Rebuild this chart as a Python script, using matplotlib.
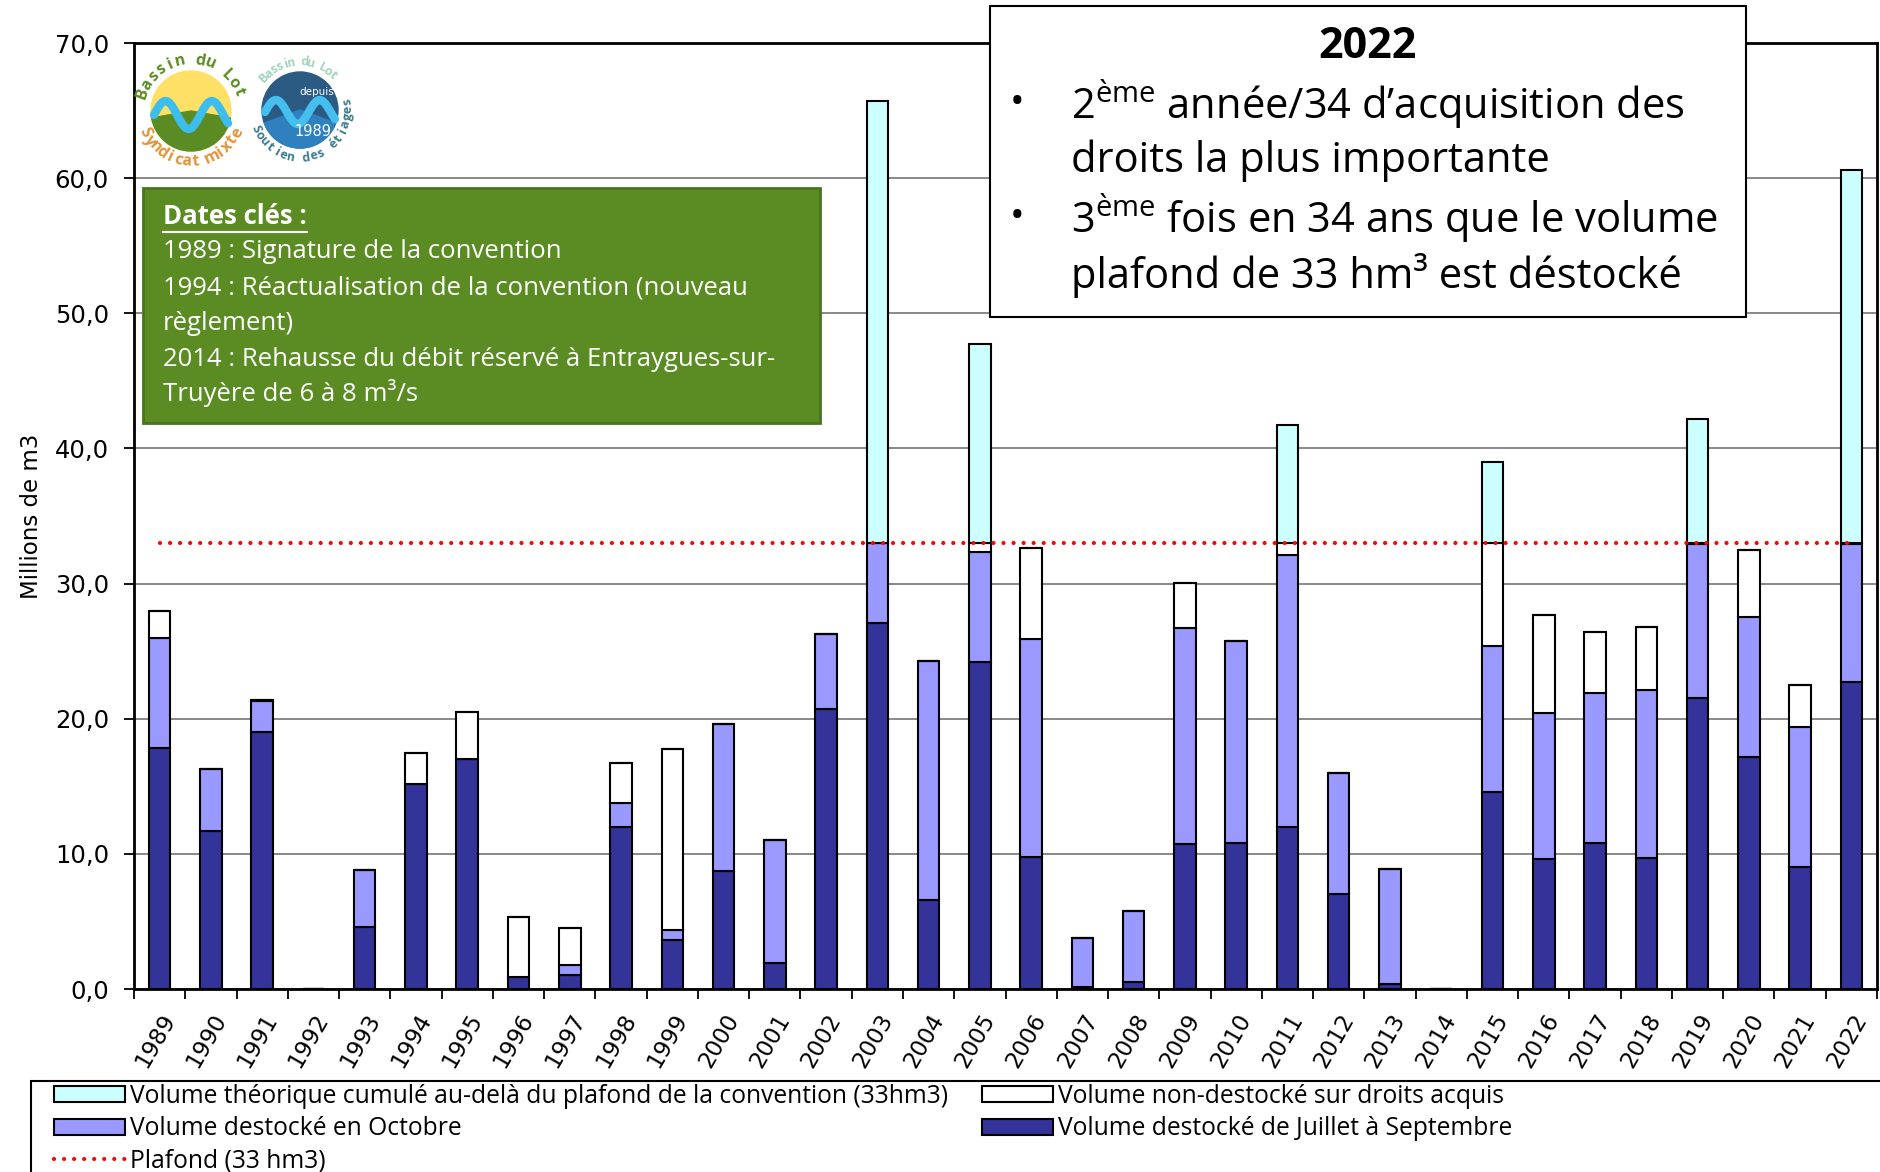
import numpy as np
import matplotlib
matplotlib.use('Agg')
import matplotlib.pyplot as plt
from matplotlib.patches import Rectangle, Circle, Wedge, Patch
from matplotlib.lines import Line2D

plt.rcParams['mathtext.fontset'] = 'custom'
plt.rcParams['mathtext.rm'] = 'Open Sans'
plt.rcParams['mathtext.it'] = 'Open Sans:italic'
plt.rcParams['mathtext.bf'] = 'Open Sans:bold'

#------------------------------------------------------------------------
# Data (millions de m3)
years = list(range(1989, 2023))
juil_sept = [17.8, 11.7, 19.0, 0.0, 4.6, 15.2, 17.0, 0.9, 1.0, 12.0,
             3.6, 8.7, 1.95, 20.7, 27.1, 6.6, 24.2, 9.8, 0.15, 0.5,
             10.7, 10.8, 12.0, 7.05, 0.4, 0.0, 14.6, 9.65, 10.8, 9.7,
             21.5, 17.2, 9.05, 22.7]
octobre = [8.2, 4.55, 2.3, 0.0, 4.2, 0.0, 0.0, 0.0, 0.8, 1.8,
           0.8, 10.9, 9.1, 5.6, 5.9, 17.65, 8.1, 16.1, 3.6, 5.3,
           16.0, 14.95, 20.1, 8.9, 8.5, 0.0, 10.8, 10.75, 11.1, 12.45,
           11.4, 10.3, 10.35, 10.2]
non_destocke = [2.0, 0.0, 0.1, 0.0, 0.0, 2.3, 3.5, 4.4, 2.75, 2.9,
                13.35, 0.0, 0.0, 0.0, 0.0, 0.0, 0.7, 6.7, 0.0, 0.0,
                3.35, 0.0, 0.9, 0.0, 0.0, 0.0, 7.6, 7.25, 4.5, 4.6,
                0.1, 5.0, 3.1, 0.1]
au_dela = [0.0, 0.0, 0.0, 0.0, 0.0, 0.0, 0.0, 0.0, 0.0, 0.0,
           0.0, 0.0, 0.0, 0.0, 32.7, 0.0, 14.7, 0.0, 0.0, 0.0,
           0.0, 0.0, 8.7, 0.0, 0.0, 0.0, 6.0, 0.0, 0.0, 0.0,
           9.2, 0.0, 0.0, 27.6]
plafond = 33.0

labels_leg = ['Volume théorique cumulé au-delà du plafond de la convention (33hm3)',
              'Volume destocké en Octobre',
              'Plafond (33 hm3)',
              'Volume non-destocké sur droits acquis',
              'Volume destocké de Juillet à Septembre']

dates_cles = ['1989 : Signature de la convention',
              '1994 : Réactualisation de la convention (nouveau',
              'règlement)',
              '2014 : Rehausse du débit réservé à Entraygues-sur-',
              'Truyère de 6 à 8 m³/s']

faits_2022 = ['2$^{\\mathrm{ème}}$ année/34 d’acquisition des',
              'droits la plus importante',
              '3$^{\\mathrm{ème}}$ fois en 34 ans que le volume',
              'plafond de 33 hm³ est déstocké']

c_dark = '#333399'
c_oct = '#9999FF'
c_cyan = '#CCFFFF'
c_green = '#5B8C23'

#-----------------------------plotting-----------------------------------
fig = plt.figure(figsize=(18.8, 11.72), dpi=100)
ax = fig.add_axes([134/1880, 1-989/1172, (1877-134)/1880, (989-43)/1172])

x = np.arange(len(years))
w = 0.42
s1 = np.array(juil_sept)
s2 = s1 + np.array(octobre)
s3 = s2 + np.array(non_destocke)
ax.bar(x, juil_sept, w, color=c_dark, edgecolor='black', lw=1.5)
ax.bar(x, octobre, w, bottom=s1, color=c_oct, edgecolor='black', lw=1.5)
ax.bar(x, non_destocke, w, bottom=s2, color='white', edgecolor='black', lw=1.5)
ax.bar(x, au_dela, w, bottom=s3, color=c_cyan, edgecolor='black', lw=1.5)
ax.plot(x, [plafond]*len(x), color='red', lw=3, ls=(0, (0.01, 2.4)),
        dash_capstyle='round', zorder=4)

ax.set_xlim(-0.5, len(years)-0.5)
ax.set_ylim(0, 70)
yt = np.arange(0, 71, 10)
ax.set_yticks(yt)
ax.set_yticklabels([('%.1f' % v).replace('.', ',') for v in yt])
ax.yaxis.grid(True, color='#808080', lw=1.3)
ax.set_axisbelow(True)
for s in ax.spines.values():
  s.set_linewidth(2)
ax.set_xticks(x)
ax.set_xticklabels([str(y) for y in years])
ax.set_xticks(np.arange(-0.5, len(years), 1), minor=True)
ax.tick_params(axis='x', which='major', length=0, pad=15, labelsize=16.5)
ax.tick_params(axis='x', which='minor', length=7, width=1.3)
ax.tick_params(axis='y', length=7, width=1.3, pad=11, labelsize=17.5)
plt.setp(ax.get_xticklabels(), rotation=60, ha='right', va='top',
         rotation_mode='anchor')
ax.set_ylabel('Millions de m3', fontsize=16.5)
ax.yaxis.set_label_coords(-0.052, 0.50)

#-----------------------------overlay (pixel coords)---------------------
ov = fig.add_axes([0, 0, 1, 1], zorder=3)
ov.set_xlim(0, 1880)
ov.set_ylim(1172, 0)
ov.axis('off')
ov.patch.set_alpha(0)

# green "Dates cles" box
ov.add_patch(Rectangle((143, 188), 677, 235, facecolor=c_green,
                       edgecolor='#4A7420', lw=2))
t = ov.text(163, 217, 'Dates clés :', color='white', fontsize=18.5,
            fontweight='bold', family='Open Sans', va='center')
ypos = [252, 288, 323, 359, 393]
for yy, s in zip(ypos, dates_cles):
  ov.text(163, yy, s, color='white', fontsize=18.5, family='Open Sans',
          va='center')
r = fig.canvas.get_renderer()
bb = t.get_window_extent(renderer=r)
ov.plot([bb.x0, bb.x1], [232, 232], color='white', lw=1.5)

# 2022 box
ov.add_patch(Rectangle((990, 6), 756, 311, facecolor='white',
                       edgecolor='black', lw=1.5))
ov.text(1368, 46, '2022', fontsize=31, fontweight='bold', family='Open Sans',
        ha='center', va='center')
ypos = [104, 161, 218, 276]
for yy, s in zip(ypos, faits_2022):
  ov.text(1071, yy, s, fontsize=30, family='Open Sans', va='center')
for yy in [104, 218]:
  ov.text(1017, yy, '•', fontsize=28, family='Open Sans', va='center',
          ha='center')

# logos
def arc_text(txt, cx, cy, rad, start, step, color, size, top=True):
  for i, ch in enumerate(txt):
    a = start - i*step if top else start + i*step
    ar = np.deg2rad(a)
    rot = a - 90 if top else a + 90
    ov.text(cx + rad*np.cos(ar), cy - rad*np.sin(ar), ch, rotation=rot,
            ha='center', va='center', color=color, fontsize=size,
            fontweight='bold', family='Open Sans')

cx, cy = 191, 111
ov.add_patch(Circle((cx, cy), 40, color='#FFE066'))
ov.add_patch(Wedge((cx, cy), 40, 10, 170, color='#5B8C23'))
tt = np.linspace(0, 1, 60)
ov.plot(cx - 37 + 74*tt, cy + 4 - 14*np.sin(2*np.pi*1.6*tt), color='#3DBDEB',
        lw=6, solid_capstyle='round')
arc_text('Bassin du Lot', cx, cy, 51, 160, 11.5, '#5B8C23', 11.5)
arc_text('Syndicat mixte', cx, cy, 51, 205, 10, '#E0953A', 11.5, top=False)

cx, cy = 300, 110
ov.add_patch(Circle((cx, cy), 38, color='#2B5A82'))
ov.add_patch(Wedge((cx, cy), 38, 20, 160, color='#2E80BF'))
ov.plot(cx - 35 + 70*tt, cy + 2 - 12*np.sin(2*np.pi*1.6*tt), color='#45C0EE',
        lw=6, solid_capstyle='round')
ov.text(cx + 17, cy - 18, 'depuis', color='white', fontsize=7.5, ha='center',
        va='center', family='DejaVu Sans')
ov.text(cx + 13, cy + 22, '1989', color='white', fontsize=10.5, ha='center',
        va='center', family='DejaVu Sans')
arc_text('Bassin du Lot', cx, cy, 48, 138, 7.6, '#A3D6BD', 9)
arc_text('Soutien des étiages', cx, cy, 48, 203, 9.3, '#3B7C8C', 9, top=False)

# legend
ov.add_patch(Rectangle((31, 1081), 1900, 200, facecolor='white',
                       edgecolor='black', lw=1.5, zorder=0))
h_cyan = Patch(facecolor=c_cyan, edgecolor='black', lw=1.5)
h_oct = Patch(facecolor=c_oct, edgecolor='black', lw=1.5)
h_white = Patch(facecolor='white', edgecolor='black', lw=1.5)
h_dark = Patch(facecolor=c_dark, edgecolor='black', lw=1.5)
h_plaf = Line2D([], [], color='red', lw=3, ls=(0, (0.01, 2.4)),
                dash_capstyle='round')
leg_kw = dict(loc='upper left', frameon=False, borderpad=0, borderaxespad=0,
              handlelength=2.9, handleheight=0.63, handletextpad=0.18,
              labelspacing=0.3, prop={'family': 'Open Sans', 'size': 17.7})
fig.legend([h_cyan, h_oct, h_plaf], labels_leg[:3],
           bbox_to_anchor=(54/1880, 1-1084/1172), **leg_kw)
fig.legend([h_white, h_dark], labels_leg[3:],
           bbox_to_anchor=(982/1880, 1-1084/1172), **leg_kw)

fig.savefig('out.png', dpi=100)
